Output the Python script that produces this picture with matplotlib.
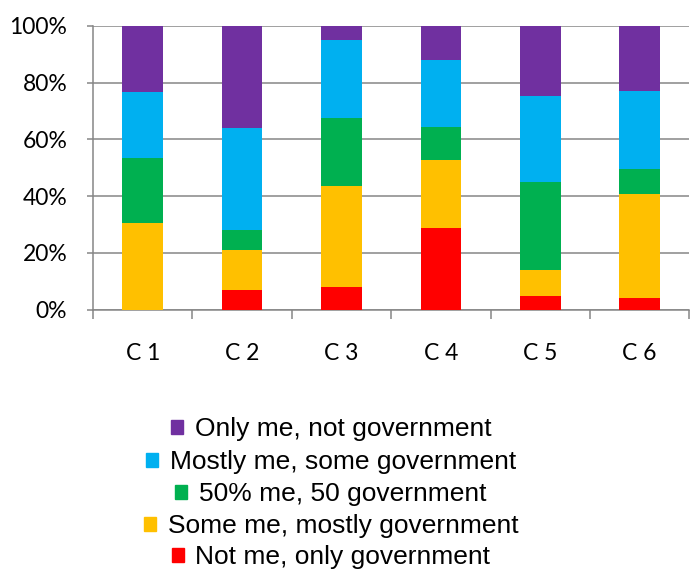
import numpy as np
from matplotlib import pyplot as plt
from matplotlib.patches import Patch
from matplotlib.ticker import PercentFormatter

categories = ['C 1', 'C 2', 'C 3', 'C 4', 'C 5', 'C 6']

# shares in percent, bottom to top
not_me = [0.0, 6.8, 7.9, 28.9, 4.6, 4.2]
some_me = [30.5, 14.1, 35.6, 23.7, 9.5, 36.4]
half = [23.1, 7.3, 24.0, 11.6, 30.7, 8.8]
mostly_me = [23.1, 35.8, 27.6, 23.7, 30.4, 27.5]
only_me = [23.3, 36.0, 4.9, 12.1, 24.8, 23.1]

series_names = ['Not me, only government', 'Some me, mostly government',
                '50% me, 50 government', 'Mostly me, some government',
                'Only me, not government']
series_values = [not_me, some_me, half, mostly_me, only_me]
colors = ['#FF0000', '#FFC000', '#00B050', '#00B0F0', '#7030A0']

grid_color = '#868686'

fig = plt.figure(figsize=(6.98, 5.88), dpi=100)
ax = fig.add_axes([93 / 698, 1 - 309.5 / 588, 596.4 / 698, 283.5 / 588])

x = np.arange(len(categories))
bottom = np.zeros(len(categories))
for name, vals, color in zip(series_names, series_values, colors):
    ax.bar(x, vals, width=0.41, bottom=bottom, color=color, label=name, zorder=3)
    bottom += np.array(vals)

ax.set_xlim(-0.5, len(categories) - 0.5)
ax.set_ylim(0, 100)
ax.set_yticks(np.arange(0, 101, 20))
ax.yaxis.set_major_formatter(PercentFormatter(decimals=0))
ax.grid(axis='y', color=grid_color, linewidth=1.1, zorder=0)

ax.set_xticks(np.arange(len(categories) + 1) - 0.5)
ax.set_xticklabels([])
ax.set_xticks(x, minor=True)
ax.set_xticklabels(categories, minor=True)
ax.tick_params(axis='x', which='major', length=6.5, width=1.1, color=grid_color)
ax.tick_params(axis='x', which='minor', length=0, pad=24, labelsize=16.5)
ax.tick_params(axis='y', length=4.5, width=1.1, color=grid_color, pad=14, labelsize=16.5)
for lab in ax.get_xticklabels(minor=True) + ax.get_yticklabels():
    lab.set_fontfamily('Lato')

for side in ['top', 'right']:
    ax.spines[side].set_visible(False)
for side in ['left', 'bottom']:
    ax.spines[side].set_color(grid_color)
    ax.spines[side].set_linewidth(1.1)

# Excel-style legend: each entry centred on its own line
rows_y = [429, 462, 494, 526, 557]
for name, color, y in zip(series_names[::-1], colors[::-1], rows_y):
    fig.legend(handles=[Patch(color=color)], labels=[name], loc='center',
               bbox_to_anchor=(331 / 698, 1 - y / 588), frameon=False,
               prop={'family': 'Liberation Sans', 'size': 19},
               handlelength=0.45, handleheight=0.45, handletextpad=0.45,
               borderpad=0, borderaxespad=0)

fig.savefig('out.png', dpi=100)
